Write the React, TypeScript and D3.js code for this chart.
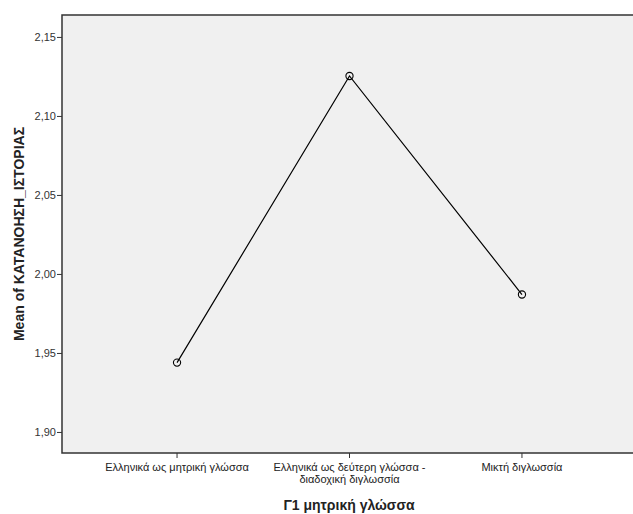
import React from "react";
import * as d3 from "d3";

const categories: string[][] = [
  ["Ελληνικά ως μητρική γλώσσα"],
  ["Ελληνικά ως δεύτερη γλώσσα -", "διαδοχική διγλωσσία"],
  ["Μικτή διγλωσσία"],
];
const means: number[] = [1.9442, 2.1256, 1.9873];
const yTicks: number[] = [1.9, 1.95, 2.0, 2.05, 2.1, 2.15];
const yTitle = "Mean of ΚΑΤΑΝΟΗΣΗ_ΙΣΤΟΡΙΑΣ";
const xTitle = "Γ1 μητρική γλώσσα";

export default function App() {
  const W = 633, H = 514;
  const left = 62, right = 637, top = 15, bottom = 453;
  const ids = categories.map((_, i) => String(i));
  const x = d3.scalePoint<string>().domain(ids).range([left, right]).padding(0.667);
  const y = d3.scaleLinear().domain([1.887, 2.1642]).range([bottom, top]);
  const line = d3.line<number>().x((_, i) => x(ids[i]) as number).y((d) => y(d));
  const fmt = (v: number) => v.toFixed(2).replace(".", ",");
  const font = "Liberation Sans, Arial, sans-serif";
  return (
    <svg width={W} height={H} style={{ position: "fixed", left: 0, top: 0, background: "#fff" }} fontFamily={font}>
      <rect x={left} y={top} width={right - left} height={bottom - top} fill="#f0f0f0" stroke="#333" strokeWidth={1.5} />
      {yTicks.map((t) => (
        <g key={t}>
          <line x1={left - 5} x2={left} y1={y(t)} y2={y(t)} stroke="#333" />
          <text x={left - 6} y={y(t)} dy="0.35em" textAnchor="end" fontSize={11} fill="#333">{fmt(t)}</text>
        </g>
      ))}
      {categories.map((lines, i) => {
        const cx = x(ids[i]) as number;
        return (
          <g key={i}>
            <line x1={cx} x2={cx} y1={bottom} y2={bottom + 5} stroke="#333" />
            {lines.map((l, j) => (
              <text key={j} x={cx} y={bottom + 18 + j * 12} textAnchor="middle" fontSize={11} fill="#222">{l}</text>
            ))}
          </g>
        );
      })}
      <path d={line(means) || ""} fill="none" stroke="#000" strokeWidth={1.2} />
      {means.map((m, i) => (
        <circle key={i} cx={x(ids[i]) as number} cy={y(m)} r={3.6} fill="none" stroke="#000" strokeWidth={1.1} />
      ))}
      <text transform={`translate(24,${(top + bottom) / 2}) rotate(-90)`} textAnchor="middle" fontSize={14} fontWeight="bold" fill="#222">{yTitle}</text>
      <text x={349} y={510} textAnchor="middle" fontSize={14} fontWeight="bold" fill="#222">{xTitle}</text>
    </svg>
  );
}
